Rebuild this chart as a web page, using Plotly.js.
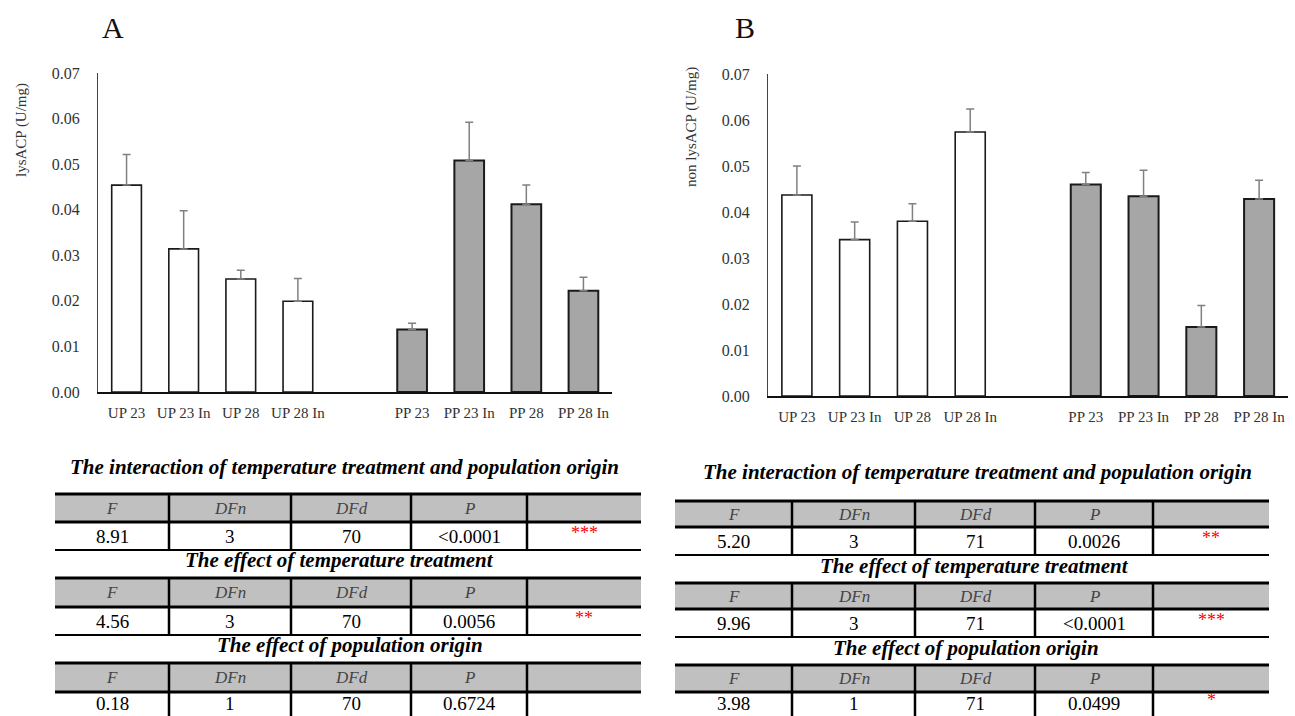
<!DOCTYPE html>
<html>
<head>
<meta charset="utf-8">
<script src="https://cdn.plot.ly/plotly-3.0.1.min.js"></script>
<style>html,body{margin:0;padding:0;background:#fff;}#chart{width:1295px;height:716px;}</style>
</head>
<body>
<div id="chart"></div>
<script>
// ---------------- data ----------------
const upLabels = ['UP 23', 'UP 23 In', 'UP 28', 'UP 28 In'];
const ppLabels = ['PP 23', 'PP 23 In', 'PP 28', 'PP 28 In'];

// Panel A: lysACP (U/mg)
const lysUP = [0.0454, 0.0314, 0.0248, 0.0199];
const lysUPerr = [0.0067, 0.0084, 0.0019, 0.0050];
const lysPP = [0.0137, 0.0508, 0.0412, 0.0222];
const lysPPerr = [0.0014, 0.0084, 0.0042, 0.0030];

// Panel B: non lysACP (U/mg)
const nonUP = [0.0437, 0.0340, 0.0380, 0.0574];
const nonUPerr = [0.0063, 0.0038, 0.0038, 0.0050];
const nonPP = [0.0460, 0.0434, 0.0150, 0.0428];
const nonPPerr = [0.0026, 0.0057, 0.0047, 0.0041];

// ANOVA tables
const tableTitles = ['The interaction of temperature treatment and population origin',
                     'The effect of temperature treatment',
                     'The effect of population origin'];
const tableHeader = ['F', 'DFn', 'DFd', 'P', ''];
const statA_F   = ['8.91', '4.56', '0.18'];
const statA_DFn = ['3', '3', '1'];
const statA_DFd = ['70', '70', '70'];
const statA_P   = ['<0.0001', '0.0056', '0.6724'];
const statA_sig = ['***', '**', ''];
const statB_F   = ['5.20', '9.96', '3.98'];
const statB_DFn = ['3', '3', '1'];
const statB_DFd = ['71', '71', '71'];
const statB_P   = ['0.0026', '<0.0001', '0.0499'];
const statB_sig = ['**', '***', '*'];

// ---------------- helpers ----------------
const W = 1295, H = 716;
const px = x => x / W;
const py = y => 1 - y / H;
const SERIF = 'Liberation Serif, Times New Roman, serif';

const upPos = upLabels.map((_, i) => i);
const ppPos = ppLabels.map((_, i) => i + upLabels.length + 1);
const tickVals = upPos.concat(ppPos);
const tickText = upLabels.concat(ppLabels);

function barTrace(xs, ys, errs, fill, lineW, xa, ya) {
  return {
    type: 'bar', x: xs, y: ys, width: 0.52,
    xaxis: xa, yaxis: ya,
    marker: {color: fill, line: {color: '#1a1a1a', width: lineW}},
    error_y: {type: 'data', symmetric: false, array: errs, arrayminus: errs.map(() => 0),
              color: '#808080', thickness: 1.5, width: 4},
    hoverinfo: 'skip', showlegend: false
  };
}

const traces = [
  barTrace(upPos, lysUP, lysUPerr, '#ffffff', 1.6, 'x', 'y'),
  barTrace(ppPos, lysPP, lysPPerr, '#a6a6a6', 2, 'x', 'y'),
  barTrace(upPos, nonUP, nonUPerr, '#ffffff', 1.6, 'x2', 'y2'),
  barTrace(ppPos, nonPP, nonPPerr, '#a6a6a6', 2, 'x2', 'y2')
];

function xAxis(d0, d1, anchor) {
  return {domain: [px(d0), px(d1)], anchor: anchor, range: [-0.5, 8.5],
          tickvals: tickVals, ticktext: tickText, ticks: '',
          showline: true, linecolor: '#111', linewidth: 2, showgrid: false, zeroline: false,
          tickfont: {family: SERIF, size: 15, color: '#333'}, ticklabelstandoff: 6, fixedrange: true};
}
function yAxis(top, bottom, anchor) {
  return {domain: [py(bottom), py(top)], anchor: anchor, range: [0, 0.07], dtick: 0.01,
          tickformat: '.2f', ticks: '', showline: true, linecolor: '#444', linewidth: 1,
          showgrid: false, zeroline: false,
          tickfont: {family: SERIF, size: 16, color: '#333'}, ticklabelstandoff: 14, fixedrange: true};
}

const annotations = [];
const shapes = [];

function textAt(x, y, text, font, extra) {
  annotations.push(Object.assign({xref: 'paper', yref: 'paper', x: px(x), y: py(y),
    xanchor: 'center', yanchor: 'middle', showarrow: false, text: text, font: font}, extra || {}));
}

// panel letters and y titles
textAt(113, 27, 'A', {family: SERIF, size: 30, color: '#111'});
textAt(745, 27, 'B', {family: SERIF, size: 30, color: '#111'});
textAt(21, 130, 'lysACP (U/mg)', {family: SERIF, size: 15, color: '#333'}, {textangle: -90});
textAt(691, 127, 'non lysACP (U/mg)', {family: SERIF, size: 15, color: '#333'}, {textangle: -90});

function line(x0, y0, x1, y1, w) {
  shapes.push({type: 'line', xref: 'paper', yref: 'paper', x0: px(x0), y0: py(y0), x1: px(x1), y1: py(y1),
               line: {color: '#000', width: w}});
}
function rect(x0, y0, x1, y1, fill) {
  shapes.push({type: 'rect', xref: 'paper', yref: 'paper', x0: px(x0), y0: py(y0), x1: px(x1), y1: py(y1),
               fillcolor: fill, line: {width: 0}, layer: 'below'});
}

function drawTables(geo, cols) {
  const n = tableTitles.length;
  for (let t = 0; t < n; t++) {
    const top = geo.tops[t], hb = geo.hbs[t], vb = geo.vbs[t];
    const last = (t === n - 1);
    const e = geo.edges;
    textAt(geo.titleX[t], geo.titleY[t], '<b><i>' + tableTitles[t] + '</i></b>',
           {family: SERIF, size: 21, color: '#000'});
    rect(e[0], top, e[e.length - 1], hb, '#c0c0c0');
    line(e[0], top, e[e.length - 1], top, 3);
    line(e[0], hb, e[e.length - 1], hb, 3);
    if (!last) line(e[0], vb, e[e.length - 1], vb, 2);
    const vbEnd = last ? H + 4 : vb;
    for (let c = 1; c < e.length - 1; c++) line(e[c], top, e[c], vbEnd, 2.5);
    for (let c = 0; c < tableHeader.length; c++) {
      const cx = (e[c] + e[c + 1]) / 2;
      if (tableHeader[c]) textAt(cx, (top + hb) / 2, '<i>' + tableHeader[c] + '</i>',
                                  {family: SERIF, size: 17, color: '#444'});
      const val = cols[c][t];
      if (!val) continue;
      const cy = (hb + vb) / 2;
      if (c === 4) textAt(cx, cy - 3, val, {family: SERIF, size: 18, color: '#ff0000'});
      else textAt(cx, cy, val.replace('<', '&lt;'), {family: SERIF, size: 19, color: '#000'});
    }
  }
}

drawTables({edges: [55, 169, 291, 411, 527, 641], tops: [494, 578, 663], hbs: [522, 607, 692],
            vbs: [550, 635, 714], titleY: [467, 560, 645], titleX: [344, 340, 350]},
           [statA_F, statA_DFn, statA_DFd, statA_P, statA_sig]);
drawTables({edges: [675, 792, 915, 1035, 1153, 1269], tops: [501, 583, 665], hbs: [527, 609, 692],
            vbs: [555, 637, 714], titleY: [472, 566, 648], titleX: [977, 974, 966]},
           [statB_F, statB_DFn, statB_DFd, statB_P, statB_sig]);

const layout = {
  width: W, height: H, margin: {l: 0, r: 0, t: 0, b: 0},
  paper_bgcolor: '#fff', plot_bgcolor: 'rgba(0,0,0,0)',
  barmode: 'overlay', showlegend: false,
  xaxis: xAxis(98, 612, 'y'), yaxis: yAxis(73, 392, 'x'),
  xaxis2: xAxis(768, 1288, 'y2'), yaxis2: yAxis(74, 396, 'x2'),
  annotations: annotations, shapes: shapes
};

Plotly.newPlot('chart', traces, layout, {displayModeBar: false, staticPlot: true});
</script>
</body>
</html>
